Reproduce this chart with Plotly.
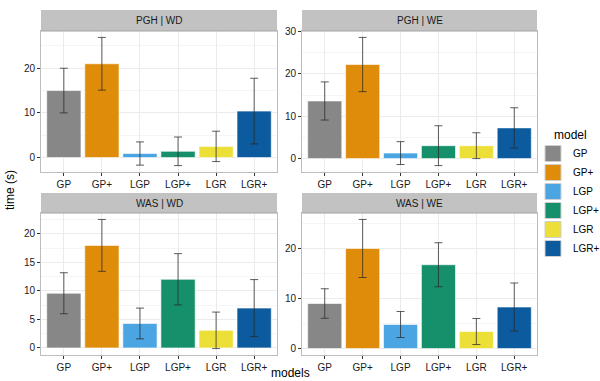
import plotly.graph_objects as go

W, H = 600, 381

models = ["GP", "GP+", "LGP", "LGP+", "LGR", "LGR+"]
colors = ["#878787", "#DF8C0B", "#4BA5E2", "#16906A", "#ECE038", "#0B5B9E"]

panels = ["PGH | WD", "PGH | WE", "WAS | WD", "WAS | WE"]

pgh_wd_mean = [15.0, 21.0, 0.9, 1.4, 2.5, 10.4]
pgh_wd_err = [5.0, 5.9, 2.6, 3.2, 3.4, 7.35]
pgh_we_mean = [13.6, 22.2, 1.3, 3.05, 3.05, 7.25]
pgh_we_err = [4.5, 6.4, 2.7, 4.7, 3.05, 4.75]
was_wd_mean = [9.6, 18.0, 4.3, 12.05, 3.1, 7.0]
was_wd_err = [3.6, 4.55, 2.7, 4.5, 3.2, 5.0]
was_we_mean = [9.0, 20.0, 4.8, 16.75, 3.4, 8.3]
was_we_err = [2.95, 5.8, 2.6, 4.4, 2.6, 4.8]

means = [pgh_wd_mean, pgh_we_mean, was_wd_mean, was_we_mean]
errs = [pgh_wd_err, pgh_we_err, was_wd_err, was_we_err]
yticks = [[0, 10, 20], [0, 10, 20, 30], [0, 5, 10, 15, 20], [0, 10, 20]]
minor_dt = [5, 5, 2.5, 5]

# pixel layout of panels (left, right, top, bottom)
px_x = [(41, 277), (302, 537), (41, 277), (302, 537)]
px_y = [(31, 172), (31, 172), (213, 355), (213, 355)]
strip_y = [(10, 31), (10, 31), (193, 213), (193, 213)]

fig = go.Figure()
font = "Liberation Sans, Arial, sans-serif"

for p in range(4):
    ax = "" if p == 0 else str(p + 1)
    m, e = means[p], errs[p]
    for i, mod in enumerate(models):
        fig.add_trace(go.Bar(
            x=[mod], y=[m[i]], name=mod,
            marker=dict(color=colors[i], line=dict(color="rgba(255,255,255,0.6)", width=1)),
            error_y=dict(type="data", array=[e[i]], color="rgba(40,40,40,0.75)",
                         thickness=1, width=4),
            xaxis="x" + ax, yaxis="y" + ax,
            showlegend=False, legendgroup=mod, width=0.9,
        ))
    lo = min(0, min(mm - ee for mm, ee in zip(m, e)))
    hi = max(mm + ee for mm, ee in zip(m, e))
    pad = (hi - lo) * 0.05
    x0, x1 = px_x[p]
    y0, y1 = px_y[p]
    fig.layout["xaxis" + ax] = dict(
        domain=[x0 / W, x1 / W], anchor="y" + ax,
        categoryorder="array", categoryarray=models, range=[-0.6, 5.6],
        showgrid=True, gridcolor="#EBEBEB", gridwidth=1,
        ticks="outside", ticklen=3, tickcolor="#333333",
        tickfont=dict(size=10, color="#1a1a1a", family=font),
        showline=True, linecolor="#BDBDBD", mirror=True, zeroline=False,
        automargin=False, fixedrange=True,
    )
    fig.layout["yaxis" + ax] = dict(
        domain=[1 - y1 / H, 1 - y0 / H], anchor="x" + ax,
        range=[lo - pad, hi + pad], tickvals=yticks[p],
        showgrid=True, gridcolor="#EBEBEB", gridwidth=1,
        minor=dict(dtick=minor_dt[p], tick0=minor_dt[p], showgrid=True, gridcolor="#F5F5F5", ticks=""),
        ticks="outside", ticklen=3, tickcolor="#333333",
        tickfont=dict(size=10, color="#1a1a1a", family=font),
        showline=True, linecolor="#BDBDBD", mirror=True, zeroline=False,
        automargin=False, fixedrange=True,
    )
    sy0, sy1 = strip_y[p]
    fig.add_shape(type="rect", xref="paper", yref="paper",
                  x0=x0 / W, x1=x1 / W, y0=1 - sy1 / H, y1=1 - sy0 / H,
                  fillcolor="#C2C2C2", line=dict(width=0), layer="above")
    fig.add_shape(type="line", xref="paper", yref="paper",
                  x0=x0 / W, x1=x1 / W, y0=1 - sy1 / H, y1=1 - sy1 / H,
                  line=dict(color="#A3A3A3", width=1), layer="above")
    fig.add_annotation(x=(x0 + x1) / 2 / W, y=1 - (sy0 + sy1) / 2 / H, xref="paper", yref="paper",
                       text=panels[p], showarrow=False, xanchor="center", yanchor="middle",
                       font=dict(size=10, color="#1a1a1a", family=font))

# legend entries (keys)
for i, mod in enumerate(models):
    fig.add_trace(go.Scatter(
        x=[None], y=[None], mode="markers", name=mod, legendgroup=mod,
        marker=dict(symbol="square", size=16, color=colors[i],
                    line=dict(color="#CFCFCF", width=1)),
        showlegend=True,
    ))

fig.add_annotation(x=552 / W, y=1 - 135 / H, xref="paper", yref="paper", text="model",
                   xanchor="left", yanchor="middle", showarrow=False,
                   font=dict(size=12, color="black", family=font))
fig.add_annotation(x=10 / W, y=1 - 190 / H, xref="paper", yref="paper", text="time (s)",
                   textangle=-90, showarrow=False, xanchor="center", yanchor="middle",
                   font=dict(size=12, color="black", family=font))
fig.add_annotation(x=290 / W, y=1 - 373 / H, xref="paper", yref="paper", text="models",
                   showarrow=False, xanchor="center", yanchor="middle",
                   font=dict(size=12, color="black", family=font))

fig.update_layout(
    width=W, height=H, margin=dict(l=0, r=0, t=0, b=0, autoexpand=False),
    paper_bgcolor="white", plot_bgcolor="white", barmode="overlay",
    hovermode=False,
    legend=dict(x=533 / W, y=1 - 139 / H, xanchor="left", yanchor="top",
                font=dict(size=10, family=font, color="black"), tracegroupgap=0,
                itemwidth=30, bgcolor="rgba(0,0,0,0)", itemsizing="trace"),
)

fig.write_html("out.html", config={"displayModeBar": False},
               post_script="document.body.style.margin='0px';")
